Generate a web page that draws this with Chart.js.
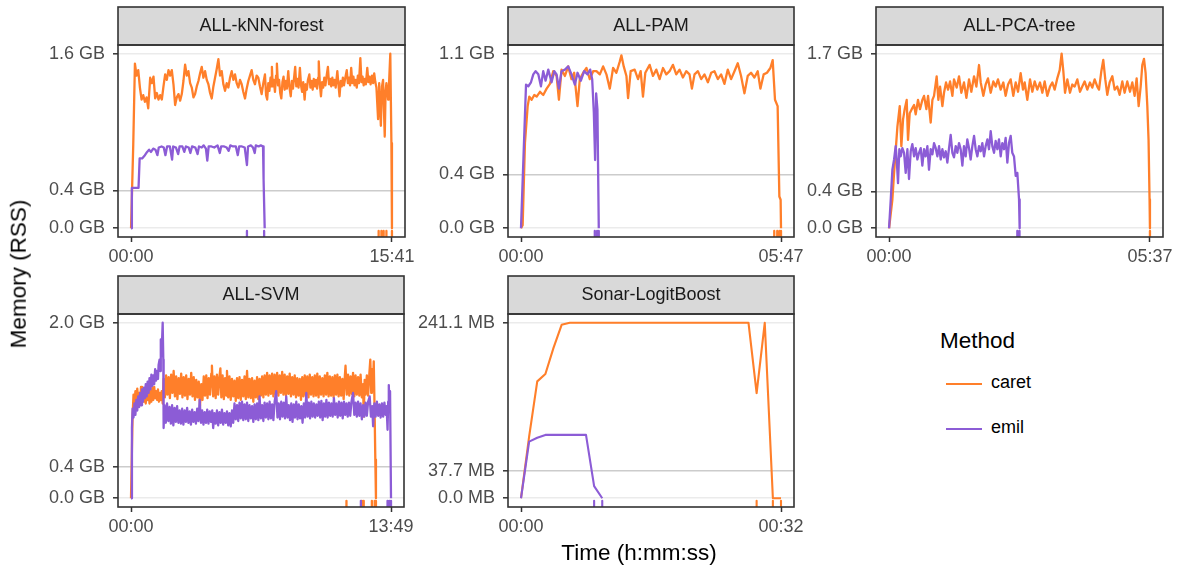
<!DOCTYPE html>
<html><head><meta charset="utf-8">
<script src="https://cdn.jsdelivr.net/npm/chart.js@4.4.0/dist/chart.umd.min.js"></script>
<style>
html,body{margin:0;padding:0;background:#fff;}
body{width:1179px;height:570px;position:relative;overflow:hidden;font-family:"Liberation Sans",Arial,Helvetica,sans-serif;}
canvas{position:absolute;}
.t{position:absolute;white-space:nowrap;color:#000;line-height:1;}
.key{position:absolute;height:2.8px;width:36px;}
</style></head><body>
<script>
// ---------------- DATA ----------------
const panelTitles = ['ALL-kNN-forest','ALL-PAM','ALL-PCA-tree','ALL-SVM','Sonar-LogitBoost'];
const durations = [941, 347, 337, 829, 32]; // seconds
const xTickLabels = [['00:00','15:41'],['00:00','05:47'],['00:00','05:37'],['00:00','13:49'],['00:00','00:32']];
const yTickValues = [[0,0.347,1.6],[0,0.339,1.1],[0,0.359,1.7],[0,0.355,2.0],[0,37.7,241.1]];
const yTickLabels = [['0.0 GB','0.4 GB','1.6 GB'],['0.0 GB','0.4 GB','1.1 GB'],['0.0 GB','0.4 GB','1.7 GB'],['0.0 GB','0.4 GB','2.0 GB'],['0.0 MB','37.7 MB','241.1 MB']];
const methods = ['caret','emil'];

// [seconds, memory] pairs
const knnCaret = [[0,0],[8,0.77],[14,1.51],[20,1.40],[26,1.45],[32,1.29],[38,1.18],[44,1.22],[50,1.16],[56,1.20],[62,1.10],[69,1.38],[75,1.33],[81,1.39],[87,1.19],[93,1.24],[99,1.18],[105,1.22],[111,1.18],[117,1.30],[123,1.41],[129,1.36],[135,1.45],[141,1.40],[147,1.45],[153,1.32],[159,1.13],[165,1.20],[171,1.23],[177,1.17],[183,1.23],[189,1.35],[195,1.50],[201,1.40],[207,1.44],[213,1.33],[219,1.29],[225,1.20],[231,1.23],[237,1.30],[243,1.35],[249,1.42],[255,1.48],[261,1.38],[267,1.44],[273,1.36],[279,1.32],[285,1.24],[291,1.19],[297,1.30],[303,1.38],[309,1.46],[315,1.55],[321,1.40],[327,1.44],[333,1.32],[339,1.26],[345,1.33],[351,1.29],[357,1.38],[363,1.44],[369,1.36],[375,1.41],[381,1.33],[387,1.29],[393,1.36],[399,1.32],[405,1.25],[411,1.19],[417,1.28],[423,1.35],[429,1.40],[435,1.45],[441,1.36],[447,1.32],[453,1.40],[459,1.38],[465,1.30],[471,1.23],[477,1.33],[483,1.41],[487,1.22],[491,1.18],[495,1.33],[499,1.26],[503,1.38],[506,1.30],[508,1.48],[511,1.30],[515,1.36],[519,1.25],[523,1.40],[526,1.51],[530,1.31],[534,1.36],[538,1.24],[542,1.19],[546,1.34],[550,1.39],[554,1.27],[558,1.35],[562,1.28],[567,1.44],[571,1.30],[576,1.21],[580,1.35],[584,1.28],[588,1.38],[592,1.48],[596,1.30],[600,1.37],[604,1.29],[609,1.47],[613,1.31],[617,1.25],[621,1.34],[626,1.18],[630,1.32],[634,1.27],[638,1.36],[643,1.41],[647,1.29],[651,1.35],[655,1.27],[659,1.37],[663,1.30],[667,1.36],[671,1.28],[675,1.38],[677,1.53],[681,1.32],[685,1.21],[689,1.34],[693,1.29],[697,1.38],[701,1.31],[705,1.39],[710,1.48],[714,1.32],[718,1.37],[722,1.30],[726,1.38],[730,1.31],[734,1.36],[738,1.29],[744,1.44],[748,1.32],[752,1.21],[756,1.35],[760,1.30],[764,1.38],[768,1.31],[772,1.37],[778,1.45],[782,1.33],[786,1.38],[790,1.31],[794,1.47],[798,1.33],[802,1.39],[806,1.31],[810,1.36],[814,1.29],[818,1.40],[822,1.33],[827,1.56],[831,1.34],[835,1.39],[839,1.31],[843,1.37],[847,1.32],[852,1.47],[856,1.34],[860,1.39],[864,1.32],[869,1.40],[873,1.33],[877,1.42],[881,1.34],[885,1.29],[891,1.00],[895,1.33],[901,0.94],[905,1.30],[909,1.36],[915,0.84],[918,1.25],[921,1.33],[924,1.26],[927,1.18],[930,1.30],[935,1.60],[939,0.78],[941,0]];
const knnEmil = [[0,0],[3,0.37],[27,0.37],[31,0.64],[40,0.64],[50,0.67],[58,0.70],[65,0.72],[72,0.70],[80,0.73],[88,0.72],[95,0.67],[100,0.74],[110,0.75],[118,0.74],[124,0.67],[130,0.75],[140,0.75],[148,0.63],[152,0.75],[162,0.74],[170,0.68],[175,0.75],[185,0.75],[192,0.70],[198,0.75],[208,0.74],[214,0.69],[220,0.75],[232,0.74],[240,0.68],[245,0.75],[255,0.74],[262,0.76],[270,0.73],[275,0.62],[280,0.75],[290,0.75],[300,0.74],[312,0.76],[320,0.69],[325,0.75],[336,0.75],[345,0.74],[352,0.71],[358,0.76],[368,0.75],[378,0.75],[385,0.67],[390,0.75],[400,0.75],[410,0.74],[418,0.58],[422,0.75],[432,0.76],[440,0.74],[446,0.69],[450,0.76],[460,0.75],[468,0.76],[476,0.75],[478,0.45],[482,0]];
const knnCaretMarks = [893,903,911,921,941];
const knnEmilMarks = [418,480];

const pamCaret = [[0,0],[2.2,0.02],[5.3,0.54],[8.9,0.77],[11.1,0.83],[14.2,0.81],[17.7,0.84],[20.9,0.83],[25.3,0.86],[29.7,0.84],[34.2,0.88],[38.6,0.91],[43,0.99],[47.5,0.96],[50.6,0.81],[54.1,1.00],[58.6,0.96],[63,1.02],[67.4,0.94],[71,0.98],[75.4,0.77],[78.5,0.94],[83,0.98],[87.4,1.01],[91.8,0.94],[96.3,0.99],[100.7,0.99],[105.2,0.97],[109.6,1.02],[114,0.97],[118.5,0.88],[122.9,1.01],[127.3,0.98],[131.8,1.05],[134,1.09],[137.1,1.02],[140.7,0.96],[142.9,0.82],[146.4,0.99],[151.7,1.00],[156.2,0.94],[159.7,0.99],[162.8,0.83],[165.9,0.98],[171.7,1.03],[176.1,0.96],[180.6,1.00],[185,0.94],[189.5,1.01],[193.9,0.97],[198.3,0.99],[202.8,1.03],[207.2,0.97],[211.6,1.00],[216.1,0.95],[220.5,0.99],[224.9,0.97],[228.1,0.88],[231.6,0.97],[236.1,0.99],[240.5,0.94],[244.9,0.97],[249.4,0.92],[253.8,0.98],[258.2,0.99],[262.7,0.94],[267.1,0.97],[271.5,0.91],[276,1.00],[280.4,0.94],[284.9,0.99],[289.3,1.04],[293.7,0.96],[298.2,0.85],[302.6,0.96],[307,0.98],[311.5,0.95],[315.9,0.99],[319.5,0.88],[323.9,0.97],[328.3,0.98],[332.8,1.01],[335.9,1.06],[339,0.81],[342.5,0.77],[344.8,0.20],[346.5,0.18],[347,0]];
const pamEmil = [[0,0],[6.7,0.905],[9.8,0.895],[13.3,0.92],[16.4,0.97],[19.5,0.99],[23.1,0.97],[26.6,0.895],[29.7,0.99],[32.8,0.93],[36.4,1.00],[40.8,0.92],[44.4,0.99],[47.5,0.97],[50.6,0.88],[54.1,0.99],[58.6,1.00],[63,1.02],[67.4,0.97],[71.9,0.905],[75.4,0.98],[79.9,0.93],[84.3,0.99],[88.7,0.97],[92.3,1.00],[95,0.94],[97.2,0.73],[98.9,0.43],[100.3,0.85],[102,0.75],[103.8,0]];
const pamCaretMarks = [338,342,345,347];
const pamEmilMarks = [98.5,101.6,103.8];

const pcaCaret = [[0,0],[4.3,0.28],[6.5,0.54],[10.8,0.99],[13.8,1.19],[15.9,0.80],[18.1,1.06],[20.2,1.16],[22.8,1.25],[24.5,0.86],[26.7,1.12],[29.3,1.16],[32.3,1.20],[34.4,1.11],[37.4,1.25],[40,1.16],[43,1.25],[45.2,1.29],[48.2,1.16],[50.4,1.29],[53.8,1.03],[56,1.25],[58.1,1.29],[61.5,1.48],[63.7,1.25],[65.9,1.38],[68.9,1.19],[71,1.32],[73.6,1.42],[76.2,1.35],[78.8,1.43],[81.8,1.29],[83.9,1.45],[87.4,1.37],[90.4,1.48],[93.4,1.32],[96.8,1.42],[99.9,1.27],[103.3,1.45],[106.3,1.33],[109.8,1.48],[112.8,1.38],[116.2,1.59],[118.4,1.42],[121.8,1.29],[124.8,1.40],[127.8,1.46],[131.3,1.32],[134.7,1.43],[137.7,1.38],[140.7,1.45],[144.2,1.35],[147.6,1.42],[150.6,1.29],[153.7,1.40],[157.1,1.45],[160.5,1.29],[163.6,1.42],[166.6,1.33],[170,1.51],[173,1.35],[175.2,1.42],[178.6,1.25],[182.1,1.45],[185.1,1.33],[188.1,1.43],[191.5,1.35],[195,1.42],[198,1.32],[201,1.43],[204.4,1.29],[207.9,1.38],[210.9,1.42],[213.9,1.35],[217.3,1.46],[220.4,1.54],[222.9,1.70],[225.1,1.53],[227.3,1.32],[230.3,1.45],[233.7,1.32],[236.7,1.40],[239.7,1.38],[243.2,1.45],[246.6,1.33],[249.6,1.38],[252.6,1.43],[256.1,1.35],[259.5,1.42],[262.5,1.37],[265.6,1.45],[269,1.38],[271.2,1.35],[274.2,1.53],[276.7,1.64],[279.3,1.45],[281.9,1.30],[284.9,1.42],[288.4,1.48],[291.4,1.35],[294.8,1.38],[297.8,1.30],[301.3,1.43],[304.3,1.32],[307.7,1.43],[311.2,1.33],[314.2,1.42],[317.2,1.29],[319.8,1.46],[322.4,1.19],[325,1.38],[327.1,1.59],[329.3,1.65],[331.4,1.51],[333.6,1.19],[335.2,0.86],[336.5,0.28],[337,0]];
const pcaEmil = [[0,0],[2.2,0.28],[4.3,0.57],[6.5,0.67],[8.6,0.80],[9.9,0.67],[11.6,0.44],[13.3,0.77],[15.1,0.70],[17.2,0.78],[19.4,0.735],[21.5,0.54],[23.7,0.77],[25.8,0.48],[28,0.75],[30.1,0.82],[32.3,0.70],[34.4,0.78],[36.6,0.67],[38.7,0.735],[40.9,0.78],[43,0.61],[45.2,0.77],[47.3,0.70],[49.5,0.80],[51.6,0.57],[53.8,0.77],[56,0.72],[58.1,0.83],[60.3,0.78],[62.4,0.70],[64.6,0.80],[66.7,0.67],[68.9,0.77],[71,0.69],[73.2,0.75],[75.3,0.64],[77.5,0.78],[79.6,0.91],[81.8,0.735],[83.9,0.69],[86.1,0.80],[88.2,0.735],[90.4,0.83],[92.5,0.77],[94.7,0.61],[96.8,0.80],[99,0.70],[101.1,0.865],[103.3,0.78],[105.4,0.67],[107.6,0.80],[109.8,0.90],[111.9,0.77],[114.1,0.70],[116.2,0.80],[118.4,0.75],[120.5,0.83],[122.7,0.70],[124.8,0.80],[127,0.865],[129.1,0.77],[131.3,0.946],[133.4,0.80],[135.6,0.735],[137.7,0.85],[139.9,0.77],[142,0.865],[144.2,0.70],[146.3,0.83],[148.5,0.77],[150.6,0.88],[152.8,0.64],[154.9,0.83],[157.1,0.90],[159.2,0.735],[161.4,0.70],[163.6,0.51],[165.7,0.54],[167.9,0.28],[168.7,0]];
const pcaCaretMarks = [337];
const pcaEmilMarks = [165.7,168.5];

const svmCaret = [[0,0],[5,0.93],[8,1.18],[11,1.05],[14,1.22],[17,1.08],[20,1.25],[23,1.10],[26,1.20],[29,1.08],[32,1.27],[35,1.12],[38,1.24],[41,1.10],[44,1.22],[47,1.08],[50,1.20],[53,1.12],[56,1.24],[59,1.08],[62,1.22],[65,1.10],[68,1.26],[71,1.12],[74,1.27],[77,1.14],[80,1.22],[83,1.12],[86,1.24],[89,1.10],[92,1.20],[95,1.12],[98,1.22],[101,1.08],[104,1.36],[108,1.15],[112,1.40],[116,1.18],[120,1.38],[124,1.14],[128,1.41],[132,1.20],[136,1.45],[140,1.16],[144,1.39],[148,1.13],[152,1.37],[156,1.19],[160,1.42],[164,1.15],[168,1.38],[172,1.17],[176,1.40],[180,1.13],[184,1.36],[188,1.18],[192,1.43],[196,1.16],[200,1.38],[204,1.12],[208,1.35],[212,1.15],[216,1.33],[220,1.05],[224,1.30],[228,1.12],[232,1.39],[236,1.17],[240,1.40],[244,1.14],[248,1.37],[252,1.18],[256,1.42],[258,1.51],[262,1.16],[266,1.39],[270,1.14],[274,1.41],[278,1.18],[282,1.38],[285,1.48],[288,1.15],[292,1.40],[296,1.13],[300,1.37],[304,1.17],[306,1.45],[310,1.15],[314,1.39],[318,1.12],[322,1.36],[326,1.16],[330,1.34],[334,1.11],[338,1.37],[342,1.14],[346,1.38],[350,1.12],[354,1.35],[358,1.16],[362,1.39],[366,1.13],[370,1.45],[374,1.15],[378,1.36],[382,1.14],[386,1.37],[390,1.10],[394,1.34],[398,1.15],[402,1.38],[406,1.13],[410,1.36],[414,1.17],[418,1.39],[422,1.15],[426,1.40],[430,1.18],[434,1.43],[438,1.17],[442,1.40],[446,1.19],[450,1.42],[454,1.16],[458,1.41],[462,1.18],[466,1.43],[470,1.17],[474,1.40],[478,1.20],[482,1.44],[486,1.18],[490,1.41],[494,1.17],[498,1.39],[502,1.19],[506,1.42],[510,1.16],[514,1.38],[518,1.18],[522,1.40],[526,1.15],[530,1.37],[534,1.17],[538,1.36],[542,1.12],[546,1.38],[550,1.16],[554,1.40],[558,1.17],[562,1.39],[566,1.15],[570,1.41],[574,1.18],[578,1.38],[582,1.16],[586,1.40],[590,1.17],[594,1.42],[598,1.15],[602,1.39],[606,1.18],[610,1.37],[614,1.16],[618,1.40],[622,1.18],[626,1.43],[630,1.16],[634,1.39],[638,1.17],[642,1.38],[646,1.15],[650,1.40],[654,1.18],[658,1.41],[662,1.16],[666,1.38],[670,1.17],[674,1.36],[678,1.13],[682,1.40],[684,1.51],[688,1.18],[692,1.41],[696,1.17],[700,1.39],[704,1.19],[708,1.43],[712,1.16],[716,1.40],[720,1.18],[724,1.38],[728,1.17],[732,1.41],[736,1.15],[740,1.30],[742,0.93],[745,1.35],[748,1.18],[752,1.40],[756,1.17],[760,1.42],[763,1.58],[766,1.20],[768,1.47],[771,1.22],[774,1.56],[777,0.93],[779,0.44],[781,0]];
const svmEmil = [[0,0],[3,0.80],[5,1.02],[8,0.92],[11,1.08],[14,0.95],[17,1.12],[20,1.00],[23,1.16],[26,1.04],[29,1.20],[32,1.06],[35,1.24],[38,1.10],[41,1.26],[44,1.14],[47,1.30],[50,1.16],[53,1.33],[56,1.20],[59,1.37],[62,1.24],[65,1.41],[68,1.28],[71,1.40],[74,1.30],[77,1.47],[80,1.34],[83,1.45],[86,1.36],[88,1.52],[91,1.58],[93,1.45],[95,1.81],[97,1.62],[98,1.69],[101,2.0],[103,1.58],[104,0.80],[107,1.06],[111,0.86],[115,1.08],[119,0.88],[123,1.04],[127,0.85],[131,1.06],[135,0.83],[139,1.03],[143,0.87],[147,1.05],[151,0.86],[155,1.00],[159,0.85],[163,1.02],[167,0.84],[171,1.00],[175,0.87],[179,1.03],[183,0.86],[187,0.99],[191,0.84],[195,1.01],[199,0.87],[203,0.98],[207,0.85],[211,1.02],[215,0.88],[219,1.12],[223,0.86],[227,1.00],[231,0.84],[235,0.98],[239,0.86],[243,1.01],[247,0.85],[251,0.99],[255,0.87],[259,1.00],[262,0.80],[266,0.97],[270,0.85],[274,1.00],[278,0.83],[282,0.98],[286,0.86],[290,1.01],[294,0.84],[298,0.97],[302,0.86],[306,0.99],[310,0.83],[314,0.97],[318,0.82],[322,1.00],[326,0.86],[330,1.08],[334,0.90],[338,1.06],[342,0.88],[346,1.09],[350,0.91],[354,1.10],[358,0.89],[362,1.07],[366,0.90],[370,1.09],[374,0.88],[378,1.06],[382,0.91],[386,1.05],[390,0.87],[394,1.07],[398,0.90],[402,1.08],[406,0.89],[410,1.16],[414,0.91],[418,1.06],[422,0.88],[426,1.09],[430,0.92],[434,1.08],[438,0.90],[442,1.10],[446,0.91],[450,1.07],[454,0.89],[458,1.10],[463,1.22],[467,0.92],[471,1.08],[475,0.90],[479,1.10],[483,0.93],[487,1.09],[491,0.91],[495,1.16],[499,0.92],[503,1.06],[507,0.89],[511,1.08],[515,0.87],[519,1.07],[523,0.92],[527,1.10],[531,0.90],[535,1.07],[539,0.91],[543,1.05],[547,0.86],[551,1.08],[555,0.92],[559,1.20],[563,0.93],[567,1.09],[571,0.91],[575,1.10],[579,0.93],[583,1.08],[587,0.92],[591,1.07],[595,0.94],[599,1.10],[603,0.92],[607,1.11],[611,0.89],[615,1.08],[619,0.93],[623,1.12],[627,0.92],[631,1.09],[635,0.94],[639,1.08],[643,0.93],[647,1.14],[651,0.95],[655,1.08],[659,0.92],[663,1.10],[667,0.94],[671,1.09],[675,0.91],[679,1.10],[683,0.95],[687,1.08],[691,0.93],[695,1.09],[699,0.94],[703,1.10],[708,1.20],[712,0.95],[716,1.09],[720,0.93],[724,1.10],[728,0.94],[732,1.08],[736,0.90],[740,1.06],[744,0.93],[748,1.09],[752,0.94],[756,1.10],[761,1.16],[765,0.93],[769,1.05],[772,0.82],[776,1.08],[780,0.93],[784,1.10],[788,0.94],[792,1.07],[796,0.92],[800,1.08],[804,0.93],[808,1.09],[812,0.95],[815,1.05],[818,0.78],[820,1.10],[822,1.29],[824,1.05],[826,1.22],[829,0]];
const svmCaretMarks = [687,736,742,768,777,781];
const svmEmilMarks = [733,818,824,829];

const sonarCaret = [[0,0],[1,84.7],[2,160.6],[3,170.7],[4,206.6],[5,238.3],[6,241.1],[28,241.1],[29,144.5],[30,241.1],[31,0],[32,0]];
const sonarEmil = [[0,0],[1,77.8],[2,83],[3,87],[8,87],[9,16.6],[10,0]];
const sonarCaretMarks = [29,31,32];
const sonarEmilMarks = [9,10];

// ---------------- LAYOUT / STYLE ----------------
const CARET = '#ff7f2a', EMIL = '#8c5cd6';
const FONT = '"Liberation Sans", Arial, Helvetica, sans-serif';
const STRIP = 38, TOPPAD = 2, YW = 110, XH = 30, PR = 22;
const geom = [
  {L:118, T:45, W:287, H:192},
  {L:508, T:45, W:286, H:192},
  {L:876, T:45, W:287, H:192},
  {L:118, T:314, W:286, H:193},
  {L:508, T:314, W:286, H:193}
];
const series = [
  [knnCaret, knnEmil, knnCaretMarks, knnEmilMarks],
  [pamCaret, pamEmil, pamCaretMarks, pamEmilMarks],
  [pcaCaret, pcaEmil, pcaCaretMarks, pcaEmilMarks],
  [svmCaret, svmEmil, svmCaretMarks, svmEmilMarks],
  [sonarCaret, sonarEmil, sonarCaretMarks, sonarEmilMarks]
];

const toXY = arr => arr.map(p => ({x:p[0], y:p[1]}));
const markXY = (ts, M) => {
  const out = [];
  ts.forEach(t => { out.push({x:t, y:-0.015*M}); out.push({x:t, y:-0.08*M}); out.push({x:t, y:null}); });
  return out;
};

const stripPlugin = title => ({
  id: 'strip',
  beforeDraw(chart) {
    const {ctx, chartArea:a} = chart;
    ctx.save();
    ctx.fillStyle = '#d9d9d9';
    ctx.fillRect(a.left, a.top - STRIP, a.right - a.left, STRIP);
    ctx.fillStyle = '#1a1a1a';
    ctx.font = '18px ' + FONT;
    ctx.textAlign = 'center';
    ctx.textBaseline = 'middle';
    ctx.fillText(title, (a.left + a.right) / 2, a.top - STRIP / 2);
    ctx.restore();
  },
  afterDraw(chart) {
    const {ctx, chartArea:a} = chart;
    ctx.save();
    ctx.strokeStyle = '#333333';
    ctx.lineWidth = 1.6;
    ctx.strokeRect(a.left, a.top - STRIP, a.right - a.left, STRIP);
    ctx.strokeRect(a.left, a.top, a.right - a.left, a.bottom - a.top);
    ctx.restore();
  }
});

geom.forEach((g, i) => {
  const cv = document.createElement('canvas');
  const cw = g.W + YW + PR, ch = g.H + STRIP + TOPPAD + XH;
  cv.width = cw; cv.height = ch;
  cv.style.left = (g.L - YW) + 'px';
  cv.style.top = (g.T - STRIP - TOPPAD) + 'px';
  cv.style.width = cw + 'px'; cv.style.height = ch + 'px';
  document.body.appendChild(cv);
  const T = durations[i];
  const yv = yTickValues[i];
  const M = yv[yv.length - 1];
  const [c, e, cm, em] = series[i];
  const lw = i === 4 ? 2.1 : 2.3;
  const lineDs = (data, color, order) => ({data, borderColor: color, backgroundColor: color, borderWidth: lw, order, pointRadius: 0, tension: 0, fill: false, borderJoinStyle: 'round', spanGaps: false});
  const dsE = lineDs(toXY(e), EMIL, 0); dsE.label = methods[1];
  const dsC = lineDs(toXY(c), CARET, 1); dsC.label = methods[0];
  const dsEm = lineDs(markXY(em, M), EMIL, 2); dsEm.clip = 0;
  const dsCm = lineDs(markXY(cm, M), CARET, 3); dsCm.clip = 0;
  new Chart(cv, {
    type: 'line',
    data: {datasets: [dsE, dsC, dsEm, dsCm]},
    options: {
      responsive: false, animation: false, devicePixelRatio: 1, events: [],
      layout: {padding: {top: STRIP + TOPPAD, left: 0, right: PR, bottom: 0}},
      plugins: {legend: {display: false}, tooltip: {enabled: false}},
      scales: {
        x: {
          type: 'linear', min: -0.05 * T, max: 1.05 * T, bounds: 'data',
          afterBuildTicks: s => { s.ticks = [{value: 0}, {value: T}]; },
          afterFit: s => { s.height = XH; },
          ticks: {callback: (v, k) => xTickLabels[i][k], color: '#4d4d4d', font: {family: FONT, size: 18}, padding: 4, maxRotation: 0, autoSkip: false},
          grid: {drawOnChartArea: false, drawTicks: true, tickLength: 5, tickColor: '#333333', tickWidth: 1.5},
          border: {display: false}
        },
        y: {
          type: 'linear', min: -0.05 * M, max: 1.05 * M, bounds: 'data',
          afterBuildTicks: s => { s.ticks = yv.map(v => ({value: v})); },
          afterFit: s => { s.width = YW; },
          ticks: {callback: (v, k) => yTickLabels[i][k], color: '#4d4d4d', font: {family: FONT, size: 18}, padding: 8, autoSkip: false},
          grid: {color: ctx => ctx.index === 1 ? '#cccccc' : '#ebebeb', lineWidth: 1.6, drawTicks: true, tickLength: 5, tickColor: '#333333', tickWidth: 1.5},
          border: {display: false}
        }
      }
    },
    plugins: [stripPlugin(panelTitles[i])]
  });
});

// ---------------- TITLES & LEGEND (text) ----------------
function addText(txt, css) {
  const d = document.createElement('div');
  d.className = 't'; d.textContent = txt;
  Object.assign(d.style, css);
  document.body.appendChild(d);
  return d;
}
addText('Memory (RSS)', {left: '19px', top: '274px', fontSize: '22.5px', transform: 'translate(-50%,-50%) rotate(-90deg)'});
addText('Time (h:mm:ss)', {left: '639px', top: '553px', fontSize: '22.5px', transform: 'translate(-50%,-50%)'});
addText('Method', {left: '940px', top: '330px', fontSize: '22.5px'});
const legendColors = [CARET, EMIL];
const legendY = [384, 429];
methods.forEach((m, k) => {
  const key = document.createElement('div');
  key.className = 'key';
  key.style.left = '946px'; key.style.top = (legendY[k] - 1.4) + 'px';
  key.style.background = legendColors[k];
  document.body.appendChild(key);
  addText(m, {left: '991px', top: (legendY[k] - 10.6) + 'px', fontSize: '18px'});
});
</script>
</body></html>
